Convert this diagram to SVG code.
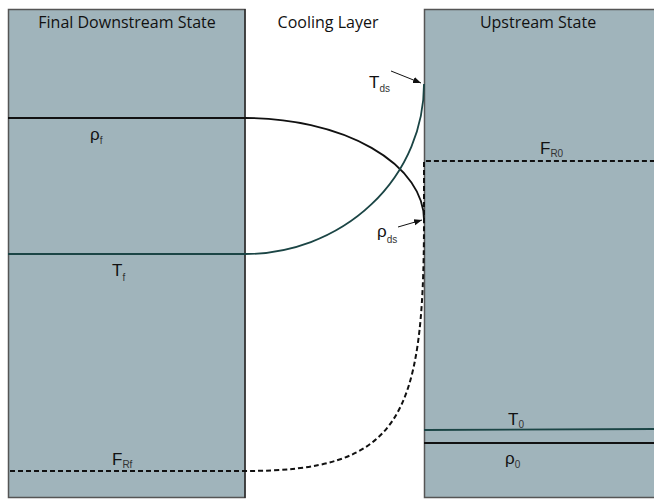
<svg xmlns="http://www.w3.org/2000/svg" width="654" height="499" viewBox="0 0 654 499">
<style>
.box{fill:#a0b4bb;stroke:#555;stroke-width:1.5}
.ttl{font-family:"Open Sans","Liberation Sans",sans-serif;font-size:16px;fill:#111;text-anchor:middle}
.lbl{font-family:"Liberation Sans",sans-serif;font-size:17px;fill:#111}
.sub{font-size:10px;fill:#333}
.rho{fill:none;stroke:#111;stroke-width:1.8}
.tem{fill:none;stroke:#1b4545;stroke-width:1.8}
.dash{fill:none;stroke:#111;stroke-width:2;stroke-dasharray:5 3}
.arr{stroke:#111;stroke-width:1;marker-end:url(#ah)}
</style>
<defs>
<marker id="ah" viewBox="0 0 10 10" refX="10" refY="5" markerWidth="8" markerHeight="8" orient="auto" markerUnits="userSpaceOnUse">
<path d="M0,1 L10,5 L0,9 z" fill="#111"/>
</marker>
</defs>
<g id="downstream">
<rect class="box" x="8.5" y="9.5" width="236.5" height="488"/>
<line x1="245" y1="9" x2="245" y2="498" stroke="#222" stroke-width="1.2"/>
<text class="ttl" x="127" y="28">Final Downstream State</text>
</g>
<g id="upstream">
<rect class="box" x="424.5" y="9.5" width="232" height="488"/>
<text class="ttl" x="538" y="28">Upstream State</text>
</g>
<g id="cooling">
<text class="ttl" x="328" y="28">Cooling Layer</text>
</g>
<g id="connectors">
<path class="rho" d="M8,118 L245,118 A179,102 0 0 1 424,220"/>
<path class="tem" d="M8,254 L245,254 A179,170 0 0 0 424,84"/>
<path class="dash" d="M10,471 L245,471 C400,471 424,420 424,220 L424,161 L654,161"/>
<line class="tem" x1="424" y1="430" x2="654" y2="429"/>
<line class="rho" x1="424" y1="443" x2="654" y2="443"/>
<line class="arr" x1="391" y1="71" x2="421" y2="83"/>
<line class="arr" x1="398" y1="227" x2="422" y2="220"/>
</g>
<g id="labels">
<text class="lbl" x="90" y="140">ρ<tspan class="sub" dy="4">f</tspan></text>
<text class="lbl" x="112" y="276">T<tspan class="sub" dy="5">f</tspan></text>
<text class="lbl" x="112" y="465">F<tspan class="sub" dy="3">Rf</tspan></text>
<text class="lbl" x="540" y="154">F<tspan class="sub" dy="3">R0</tspan></text>
<text class="lbl" x="508" y="425">T<tspan class="sub" dy="3">0</tspan></text>
<text class="lbl" x="505" y="464">ρ<tspan class="sub" dy="4">0</tspan></text>
<text class="lbl" x="369" y="88">T<tspan class="sub" dy="4">ds</tspan></text>
<text class="lbl" x="377" y="237">ρ<tspan class="sub" dy="6">ds</tspan></text>
</g>
</svg>
